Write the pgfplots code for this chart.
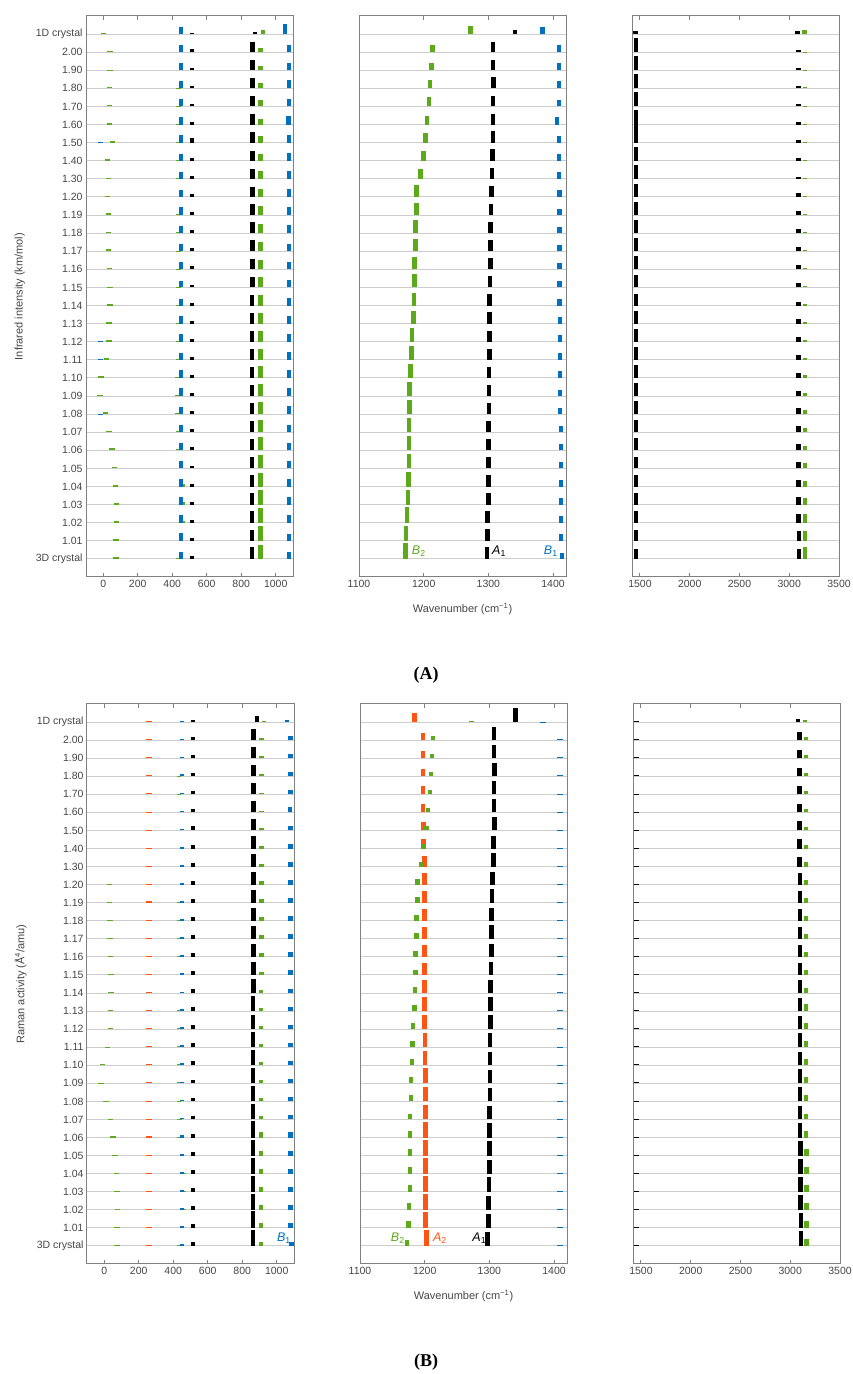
\documentclass[border=0pt]{standalone}
\usepackage{pgfplots}
\pgfplotsset{compat=1.18}
\usepackage{pgfplotstable}
\usepackage{fontspec}
\setmainfont{Liberation Sans}
\newfontfamily\seriffont{Liberation Serif}
\definecolor{cgreen}{RGB}{92,170,28}
\definecolor{cblue}{RGB}{0,112,192}
\definecolor{corange}{RGB}{255,85,20}
\definecolor{cgrid}{RGB}{205,205,205}
\definecolor{caxis}{RGB}{128,128,128}
\definecolor{ctext}{RGB}{70,70,70}

% Infrared intensities; r = row (0 = 3D crystal ... 29 = 1D crystal), x = wavenumber, h = height in row units
\pgfplotstableread{
r g0x g0h b0x b0h gax gah bax bah kax kah kbx kbh gbx gbh bbx bbh gcx gch kcx kch bcx bch kdx kdh kex keh gdx gdh
0 75 .10 -15 0 432 .05 451 .38 514 .16 862 .65 912 .78 1077 .37 1172 .88 1297.5 .66 1413.5 .35 1458 .55 3100 .55 3157 .68
1 75 .08 -15 0 432 0 451 .42 514 .16 862 .62 912 .83 1077 .40 1173 .84 1298.5 .66 1412 .36 1458 .60 3097 .55 3157 .55
2 78 .10 -15 0 460 .12 451 .40 514 .16 862 .62 912 .80 1077 .40 1174 .84 1299 .64 1412 .36 1458 .62 3095 .48 3157 .48
3 76 .08 -15 0 462 .14 451 .42 514 .16 862 .62 912 .80 1077 .40 1176 .82 1300 .62 1412 .36 1458 .63 3095 .40 3157 .37
4 72 .08 -15 0 462 .12 451 .40 514 .16 862 .62 912 .74 1077 .42 1176.5 .82 1300 .62 1412 .36 1458 .61 3095 .37 3157 .33
5 65 .10 -15 0 432 0 451 .42 514 .16 862 .62 912 .75 1077 .42 1177 .82 1300 .62 1412 .36 1458 .65 3095 .37 3157 .28
6 50 .14 -15 0 435 .05 451 .40 514 .16 862 .60 912 .74 1077 .42 1177.5 .80 1300.5 .62 1412 .36 1458 .68 3095 .35 3157 .25
7 32 .08 -15 0 432 .05 451 .38 514 .16 862 .60 912 .70 1077 .42 1177.5 .80 1300.5 .62 1412 .36 1458 .70 3095 .33 3157 .22
8 12 .10 -15 .03 430 .05 451 .38 514 .16 862 .60 912 .66 1077 .44 1178 .78 1301 .62 1410.5 .36 1458 .70 3095 .32 3157 .20
9 -18 .08 -15 0 430 .05 451 .42 514 .16 862 .60 912 .65 1077 .46 1178 .78 1301 .62 1410.5 .36 1458 .70 3095 .30 3157 .18
10 -12 .10 -15 0 430 .06 451 .42 514 .16 862 .60 912 .66 1077 .42 1179.5 .76 1301 .62 1410.5 .36 1458 .70 3095 .28 3157 .15
11 18 .10 -15 .03 432 .06 451 .40 514 .16 862 .60 912 .60 1077 .42 1181 .76 1301.5 .62 1410.5 .36 1458 .70 3095 .27 3157 .12
12 32 .10 -15 .03 435 .05 451 .40 514 .16 862 .60 912 .60 1077 .42 1182 .74 1301.5 .62 1410.5 .36 1458 .70 3095 .25 3157 .10
13 32 .10 -15 0 435 .05 451 .40 514 .16 862 .60 912 .60 1077 .42 1184 .72 1302 .63 1410.5 .36 1458 .70 3095 .25 3157 .08
14 38 .06 -15 0 435 .04 451 .38 514 .16 862 .57 912 .57 1077 .42 1185 .72 1302 .62 1410 .36 1458 .66 3095 .22 3157 .06
15 40 .05 -15 0 435 .04 451 .38 514 .16 866 .57 912 .58 1077 .42 1186 .72 1302.5 .65 1410 .36 1458 .68 3095 .22 3157 .06
16 35 .08 -15 0 435 .04 451 .38 514 .16 866 .57 912 .53 1077 .42 1186 .70 1303.5 .62 1410 .36 1458 .72 3095 .22 3157 .06
17 30 .10 -15 0 435 .04 451 .40 514 .16 866 .60 912 .50 1077 .42 1187 .70 1303.5 .62 1410 .36 1458 .72 3095 .22 3157 .06
18 30 .08 -15 0 435 .04 451 .40 514 .16 866 .60 912 .52 1077 .44 1187 .70 1303.5 .62 1410 .36 1458 .72 3095 .22 3157 .06
19 30 .10 -15 0 435 .04 451 .42 514 .16 866 .60 912 .50 1077 .42 1189 .68 1304 .60 1410 .36 1458 .74 3095 .20 3157 .06
20 25 .06 -15 0 435 0 451 .40 514 .16 866 .57 912 .46 1077 .42 1189 .68 1304.5 .60 1410 .36 1458 .74 3095 .20 3157 .05
21 30 .06 -15 0 435 .03 451 .40 514 .14 866 .55 912 .42 1077 .42 1195 .57 1305.5 .60 1409 .36 1458 .74 3093 .12 3157 .03
22 25 .07 -15 0 435 .03 451 .40 514 .15 866 .55 912 .39 1077 .42 1200 .55 1306.5 .65 1409 .36 1458 .74 3093 .13 3157 .03
23 55 .08 -15 .03 435 .03 451 .40 514 .24 866 .57 912 .37 1077 .42 1203 .55 1307.5 .65 1409 .36 1458 .95 3093 .13 3157 .03
24 35 .06 -15 0 435 .03 451 .40 514 .15 866 .57 912 .33 1073 .48 1205 .48 1307 .60 1406 .42 1458 .80 3093 .13 3157 .03
25 35 .06 -15 0 435 .04 451 .42 514 .15 866 .57 912 .35 1077 .44 1208 .50 1307 .60 1409 .38 1458 .82 3093 .13 3157 .05
26 35 .07 -15 0 435 .04 451 .42 514 .15 866 .60 912 .30 1077 .44 1210 .46 1308 .62 1409 .38 1458 .80 3093 .13 3157 .05
27 38 .04 -15 0 435 0 451 .40 514 .15 866 .57 912 .24 1077 .42 1212 .42 1307 .58 1409 .38 1458 .80 3093 .10 3157 .03
28 40 .04 -15 0 435 0 451 .42 514 .15 866 .57 912 .24 1077 .42 1214 .42 1307 .57 1409 .39 1458 .80 3093 .10 3157 .03
29 0 .04 -15 0 435 0 450 .38 514 .07 880 .12 926 .24 1054 .55 1272 .42 1341 .20 1384 .38 1455 .17 3085 .17 3155 .20
}\irdata

% Raman activities
\pgfplotstableread{
r g0x g0h ox oh gax gah bax bah kax kah kbx kbh gbx gbh bbx bbh o2x o2h gcx gch kcx kch bcx bch kdx kdh kex keh gdx gdh
0 75 .04 260 .04 432 .04 451 .10 514 .22 862 .90 908 .22 1085 .22 1202.6 .90 1172.3 .35 1297.4 .78 1409 .04 1455 .04 3107 .85 3162 .40
1 75 .04 260 .07 432 0 451 .08 514 .20 862 .92 908 .28 1079 .25 1201.5 .89 1175 .39 1298.5 .76 1409 .04 1455 .05 3107 .82 3162 .40
2 77 .04 260 .07 458 .06 451 .10 514 .20 862 .90 910 .25 1079 .25 1201.5 .90 1176 .35 1299 .78 1409 .04 1455 .05 3105 .82 3162 .39
3 75 .04 260 .06 458 .06 451 .10 514 .20 862 .89 910 .25 1079 .25 1201.5 .87 1177.5 .37 1299.5 .80 1409 .04 1455 .05 3105 .80 3162 .37
4 71 .04 260 .06 458 .06 451 .10 514 .20 862 .89 910 .28 1079 .25 1201.5 .87 1177.5 .37 1300 .76 1409 .04 1455 .05 3103 .80 3162 .37
5 63 .05 260 .06 435 0 451 .10 514 .20 862 .87 910 .28 1079 .28 1201.5 .87 1177.5 .37 1300 .80 1409 .04 1455 .05 3103 .80 3162 .37
6 52 .08 260 .07 435 .05 451 .12 514 .22 862 .89 910 .28 1079 .28 1201.5 .85 1177.5 .37 1300 .78 1409 .04 1455 .05 3100 .80 3160 .37
7 35 .04 260 .04 435 .04 451 .10 514 .20 862 .87 910 .20 1079 .25 1201.5 .81 1177.5 .33 1300.5 .76 1409 .04 1455 .04 3100 .72 3160 .33
8 10 .04 260 .04 432 .05 451 .10 514 .20 862 .87 910 .20 1079 .25 1201.5 .81 1178.5 .35 1301 .72 1409 .04 1455 .05 3100 .78 3160 .35
9 -19 .04 260 .07 432 .05 451 .10 514 .20 862 .85 910 .20 1079 .25 1201 .83 1179 .33 1301 .74 1409 .04 1455 .05 3100 .78 3160 .33
10 -10 .05 260 .08 432 .05 451 .10 514 .22 862 .83 910 .20 1079 .25 1200.5 .80 1180 .33 1301 .74 1409 .04 1455 .05 3100 .76 3160 .35
11 20 .04 260 .07 432 .05 451 .10 514 .22 862 .83 910 .20 1079 .25 1200.5 .78 1181.5 .33 1301 .78 1409 .04 1455 .05 3100 .76 3160 .35
12 35 .04 260 .07 432 .05 451 .10 514 .22 862 .81 910 .20 1079 .25 1200 .78 1182 .33 1301.5 .78 1409 .04 1455 .05 3100 .74 3160 .33
13 35 .06 260 .08 432 .05 451 .10 514 .22 862 .83 910 .19 1079 .25 1200 .76 1184 .33 1302 .76 1409 .04 1455 .05 3100 .74 3160 .37
14 40 .04 260 .05 432 0 451 .08 514 .20 866 .78 910 .15 1079 .25 1200 .70 1185 .33 1302 .70 1409 .04 1455 .04 3098 .70 3158 .30
15 40 .05 260 .05 432 0 451 .10 514 .20 866 .72 911 .15 1079 .25 1200 .67 1185.5 .30 1302.5 .72 1409 .04 1455 .04 3096 .67 3156 .26
16 35 .04 260 .07 432 .04 451 .10 514 .20 866 .74 911 .20 1079 .25 1200 .65 1186 .30 1303.5 .70 1409 .04 1455 .04 3096 .65 3156 .26
17 32 .04 260 .07 432 .04 451 .10 514 .20 866 .72 911 .20 1079 .28 1200 .65 1187.5 .30 1303.5 .74 1409 .04 1455 .04 3096 .63 3156 .26
18 33 .04 260 .07 432 .04 451 .10 514 .20 866 .72 911 .20 1079 .28 1200 .65 1187.5 .30 1303.5 .72 1409 .04 1455 .04 3096 .63 3156 .24
19 30 .04 260 .07 432 .04 451 .10 514 .22 866 .70 911 .20 1079 .28 1200 .65 1188.5 .30 1304 .74 1409 .04 1455 .04 3096 .63 3156 .24
20 30 .04 260 .05 432 0 451 .08 514 .20 866 .72 911 .18 1079 .25 1200 .65 1189 .30 1304.5 .72 1409 .04 1455 .04 3096 .63 3156 .24
21 30 0 260 .04 432 0 451 .07 514 .20 866 .70 911 .15 1079 .25 1199.5 .59 1194 .28 1306.2 .74 1409 .04 1455 .04 3094 .55 3156 .24
22 30 0 260 .04 432 0 451 .10 514 .20 866 .67 911 .12 1079 .25 1198.5 .54 1199 .26 1306.7 .72 1409 .04 1455 .04 3094 .52 3156 .18
23 30 0 260 .04 432 0 451 .10 514 .22 866 .65 911 .12 1079 .25 1198.5 .48 1202.5 .26 1307.7 .72 1409 .04 1455 .04 3094 .50 3156 .17
24 30 0 260 .04 432 0 451 .10 514 .20 866 .65 911 .10 1076 .28 1197.4 .44 1205 .26 1307.2 .76 1409 .04 1455 .04 3094 .48 3156 .18
25 30 0 260 .07 432 .04 451 .10 514 .20 866 .63 911 .10 1079 .25 1197.4 .44 1208 .26 1307.2 .74 1409 .04 1455 .04 3094 .48 3156 .18
26 30 0 260 .07 432 .04 451 .10 514 .20 866 .65 911 .10 1079 .25 1197.4 .42 1210 .26 1308 .74 1409 .05 1455 .05 3094 .44 3156 .18
27 30 0 260 .04 432 0 451 .08 514 .20 866 .63 911 .10 1079 .25 1197.4 .40 1211.5 .22 1307.2 .74 1409 .04 1455 .04 3094 .44 3156 .17
28 30 0 260 .04 432 0 451 .08 514 .20 866 .63 911 .12 1079 .22 1197.4 .40 1213 .22 1307.2 .74 1409 .04 1455 .04 3094 .44 3156 .17
29 30 0 260 .04 432 0 452 .08 514 .12 886 .33 925 .08 1060 .12 1184 .50 1272 .06 1340.5 .78 1383 .03 1455 .04 3078 .18 3146 .10
}\ramandata

\pgfplotsset{
  spec/.style={
    scale only axis, width=207pt, ymin=-1, ymax=30,
    ytick={0,...,29}, yticklabels={},
    ymajorgrids, grid style={cgrid, line width=1pt},
    axis line style={caxis, line width=1pt},
    xtick pos=both, tick align=inside, major tick length=4pt,
    xtick style={caxis, line width=1pt}, ytick style={draw=none},
    ticklabel style={font=\fontsize{10.5}{12}\selectfont, text=ctext},
    label style={font=\fontsize{11}{13}\selectfont, text=ctext},
    /pgf/number format/assume math mode=true,
    /pgf/number format/1000 sep={},
  },
  rowlabels/.style={yticklabels={3D crystal,1.01,1.02,1.03,1.04,1.05,1.06,1.07,1.08,1.09,1.10,1.11,1.12,1.13,1.14,1.15,1.16,1.17,1.18,1.19,1.20,1.30,1.40,1.50,1.60,1.70,1.80,1.90,2.00,1D crystal}},
  stick/.style 2 args={quiver={u=0,v=\thisrow{#2}}, draw=#1, line width=4.5pt, line cap=butt},
  dash/.style 2 args={quiver={u=0,v=\thisrow{#2}}, draw=#1, line width=5.5pt, line cap=butt},
}
\tikzset{ann/.style={font=\fontsize{12.5}{14}\selectfont\itshape, anchor=west, inner sep=1pt}}

\begin{document}
\begin{tikzpicture}
\path[use as bounding box] (0pt,0pt) rectangle (852pt,1374pt);

% ===== (A) infrared =====
\begin{axis}[spec, height=561pt, at={(86pt,797pt)}, anchor=south west,
  xmin=-100, xmax=1100, xtick={0,200,...,1000}, rowlabels,
  ylabel={Infrared intensity (km/mol)},
  ylabel style={at={(axis description cs:-0.32,0.5)}, anchor=center}]
\addplot[dash={cgreen}{g0h}] table[x=g0x,y=r] {\irdata};
\addplot[dash={cblue}{b0h}] table[x=b0x,y=r] {\irdata};
\addplot[stick={cgreen}{gah}] table[x=gax,y=r] {\irdata};
\addplot[stick={cblue}{bah}] table[x=bax,y=r] {\irdata};
\addplot[stick={black}{kah}] table[x=kax,y=r] {\irdata};
\addplot[stick={black}{kbh}] table[x=kbx,y=r] {\irdata};
\addplot[stick={cgreen}{gbh}] table[x=gbx,y=r] {\irdata};
\addplot[stick={cblue}{bbh}] table[x=bbx,y=r] {\irdata};
\end{axis}

\begin{axis}[spec, height=561pt, at={(359pt,797pt)}, anchor=south west,
  xmin=1100, xmax=1420, xtick={1100,1200,1300,1400},
  xlabel={Wavenumber (cm\textsuperscript{−1})},
  xlabel style={at={(axis description cs:0.5,-0.057)}, anchor=center}]
\addplot[stick={cgreen}{gch}] table[x=gcx,y=r] {\irdata};
\addplot[stick={black}{kch}] table[x=kcx,y=r] {\irdata};
\addplot[stick={cblue}{bch}] table[x=bcx,y=r] {\irdata};
\node[ann, text=cgreen] at (axis cs:1180,0.42) {B\textsubscript{\upshape 2}};
\node[ann, text=black] at (axis cs:1304,0.42) {A\textsubscript{\upshape 1}};
\node[ann, text=cblue] at (axis cs:1384,0.42) {B\textsubscript{\upshape 1}};
\end{axis}

\begin{axis}[spec, height=561pt, at={(632pt,797pt)}, anchor=south west,
  xmin=1420, xmax=3500, xtick={1500,2000,2500,3000,3500}]
\addplot[stick={black}{kdh}] table[x=kdx,y=r] {\irdata};
\addplot[stick={black}{keh}] table[x=kex,y=r] {\irdata};
\addplot[stick={cgreen}{gdh}] table[x=gdx,y=r] {\irdata};
\end{axis}

\node[font=\seriffont\bfseries\fontsize{18}{20}\selectfont] at (426pt,699pt) {(A)};

% ===== (B) Raman =====
\begin{axis}[spec, height=560pt, at={(87pt,110pt)}, anchor=south west,
  xmin=-100, xmax=1100, xtick={0,200,...,1000}, rowlabels,
  ylabel={Raman activity (Å\textsuperscript{4}/amu)},
  ylabel style={at={(axis description cs:-0.32,0.5)}, anchor=center}]
\addplot[dash={cgreen}{g0h}] table[x=g0x,y=r] {\ramandata};
\addplot[dash={corange}{oh}] table[x=ox,y=r] {\ramandata};
\addplot[stick={cgreen}{gah}] table[x=gax,y=r] {\ramandata};
\addplot[stick={cblue}{bah}] table[x=bax,y=r] {\ramandata};
\addplot[stick={black}{kah}] table[x=kax,y=r] {\ramandata};
\addplot[stick={black}{kbh}] table[x=kbx,y=r] {\ramandata};
\addplot[stick={cgreen}{gbh}] table[x=gbx,y=r] {\ramandata};
\addplot[stick={cblue}{bbh}] table[x=bbx,y=r] {\ramandata};
\node[ann, text=cblue] at (axis cs:995,0.42) {B\textsubscript{\upshape 1}};
\end{axis}

\begin{axis}[spec, height=560pt, at={(360pt,110pt)}, anchor=south west,
  xmin=1100, xmax=1420, xtick={1100,1200,1300,1400},
  xlabel={Wavenumber (cm\textsuperscript{−1})},
  xlabel style={at={(axis description cs:0.5,-0.057)}, anchor=center}]
\addplot[stick={corange}{o2h}] table[x=o2x,y=r] {\ramandata};
\addplot[stick={cgreen}{gch}] table[x=gcx,y=r] {\ramandata};
\addplot[stick={black}{kch}] table[x=kcx,y=r] {\ramandata};
\addplot[dash={cblue}{bch}] table[x=bcx,y=r] {\ramandata};
\node[ann, text=cgreen] at (axis cs:1146,0.42) {B\textsubscript{\upshape 2}};
\node[ann, text=corange] at (axis cs:1211,0.42) {A\textsubscript{\upshape 2}};
\node[ann, text=black] at (axis cs:1272,0.42) {A\textsubscript{\upshape 1}};
\end{axis}

\begin{axis}[spec, height=560pt, at={(633pt,110pt)}, anchor=south west,
  xmin=1420, xmax=3500, xtick={1500,2000,2500,3000,3500}]
\addplot[stick={black}{kdh}] table[x=kdx,y=r] {\ramandata};
\addplot[stick={black}{keh}] table[x=kex,y=r] {\ramandata};
\addplot[stick={cgreen}{gdh}] table[x=gdx,y=r] {\ramandata};
\end{axis}

\node[font=\seriffont\bfseries\fontsize{18}{20}\selectfont] at (426pt,12pt) {(B)};
\end{tikzpicture}
\end{document}
